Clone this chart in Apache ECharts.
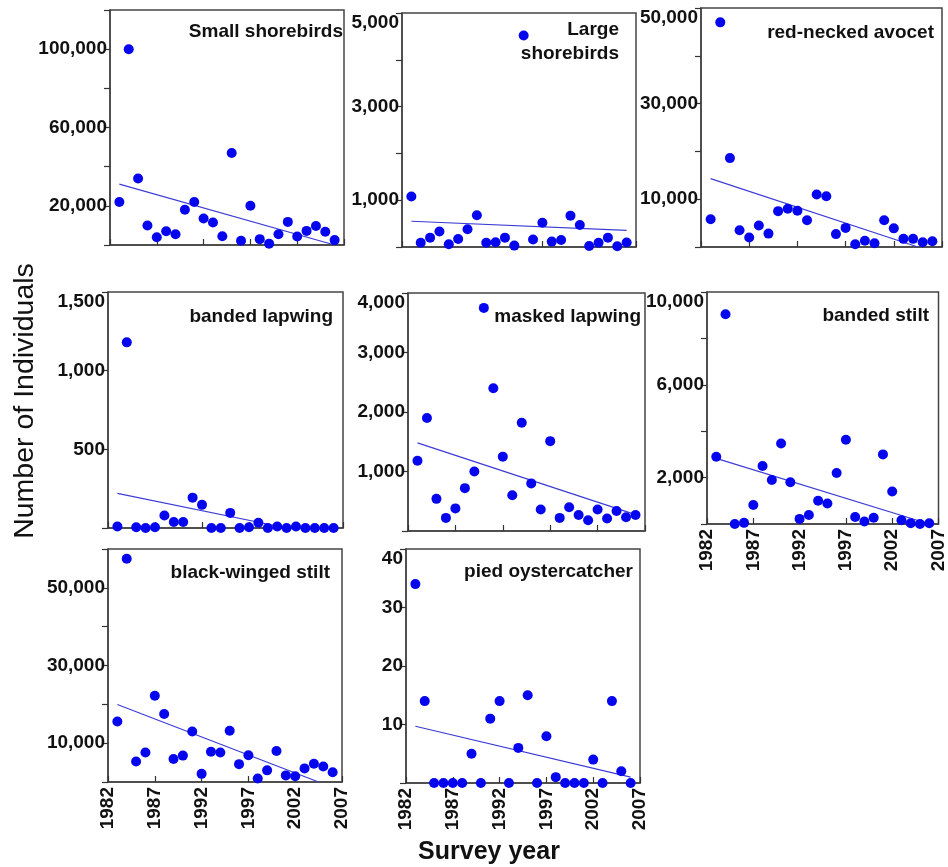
<!DOCTYPE html>
<html><head><meta charset="utf-8">
<script src="https://cdn.jsdelivr.net/npm/echarts@6/dist/echarts.min.js"></script>
<style>html,body{margin:0;padding:0;background:#fff}#c{width:948px;height:867px}</style>
</head><body><div id="c"></div>
<script>
// ---- data ----
const years = [1983,1984,1985,1986,1987,1988,1989,1990,1991,1992,1993,1994,1995,1996,1997,1998,1999,2000,2001,2002,2003,2004,2005,2006];
const xTickYears = [1982,1987,1992,1997,2002,2007];

const smallShorebirds   = [22000,100000,34000,10000,4000,7000,5500,18000,22000,13500,11500,4500,47000,2200,20000,3000,700,5500,11800,4300,7200,9700,6800,2500];
const largeShorebirds   = [1080,90,200,330,60,170,380,680,90,100,200,30,4520,160,520,115,150,670,470,20,90,200,15,95];
const redNeckedAvocet   = [5800,47000,18600,3500,2000,4500,2800,7500,8000,7600,5600,11000,10600,2700,4000,560,1300,770,5600,3900,1700,1700,1000,1200];
const bandedLapwing     = [10,1180,5,0,5,80,38,38,193,147,0,0,96,0,5,33,0,10,0,10,0,0,0,0];
const maskedLapwing     = [1180,1900,540,220,380,720,1000,3750,2400,1250,600,1820,800,360,1510,220,400,270,180,360,210,335,230,270];
const bandedStilt       = [2900,9040,0,50,820,2500,1900,3470,1800,220,390,1000,880,2200,3630,300,110,270,3000,1400,160,30,0,30];
const blackWingedStilt  = [15600,57500,5300,7600,22200,17500,5900,6800,13000,2100,7800,7600,13200,4600,6900,900,3000,8000,1700,1500,3500,4700,4000,2500];
const piedOystercatcher = [34,14,0,0,0,0,5,0,11,14,0,6,15,0,8,1,0,0,0,4,0,14,2,0];

// trend lines: [startYear, startValue, endYear, endValue]
const trendSmall   = [1983, 31100, 2006, 0];
const trendLarge   = [1983, 550, 2006, 357];
const trendAvocet  = [1983, 14300, 2004.5, 0];
const trendBLap    = [1983, 220, 2001, 0];
const trendMLap    = [1983, 1480, 2006, 275];
const trendBStilt  = [1983, 2830, 2006, 0];
const trendBWStilt = [1983, 19960, 2004.5, 0];
const trendPied    = [1983, 9.7, 2006, 1.0];

// y axis labelled ticks
const yLabelsSmall  = [20000, 60000, 100000];
const yLabelsLarge  = [1000, 3000, 5000];
const yLabelsAvocet = [10000, 30000, 50000];
const yLabelsBLap   = [500, 1000, 1500];
const yLabelsMLap   = [1000, 2000, 3000, 4000];
const yLabelsBStilt = [2000, 6000, 10000];
const yLabelsBWStilt= [10000, 30000, 50000];
const yLabelsPied   = [10, 20, 30, 40];

// ---- layout ----
const FONT = "'Liberation Sans', Arial, sans-serif";
const panels = [
  {name:'Small shorebirds', v:smallShorebirds, t:trendSmall, max:120000, step:20000, lab:yLabelsSmall,
   g:{left:110,top:10,width:234,height:235}, tx:343, ty:32, xl:false},
  {name:'Large\nshorebirds', v:largeShorebirds, t:trendLarge, max:5000, step:1000, lab:yLabelsLarge,
   g:{left:402,top:13,width:234,height:234}, tx:619, ty:42, xl:false},
  {name:'red-necked avocet', v:redNeckedAvocet, t:trendAvocet, max:50000, step:10000, lab:yLabelsAvocet,
   g:{left:701,top:8,width:241,height:239}, tx:934, ty:33, xl:false},
  {name:'banded lapwing', v:bandedLapwing, t:trendBLap, max:1500, step:500, lab:yLabelsBLap,
   g:{left:108,top:292,width:235,height:236}, tx:333, ty:317, xl:false},
  {name:'masked lapwing', v:maskedLapwing, t:trendMLap, max:4000, step:1000, lab:yLabelsMLap,
   g:{left:408,top:293,width:237,height:238}, tx:641, ty:317, xl:false},
  {name:'banded stilt', v:bandedStilt, t:trendBStilt, max:10000, step:2000, lab:yLabelsBStilt,
   g:{left:707,top:292,width:235,height:232}, tx:929, ty:316, xl:true},
  {name:'black-winged stilt', v:blackWingedStilt, t:trendBWStilt, max:60000, step:10000, lab:yLabelsBWStilt,
   g:{left:108,top:549,width:234,height:233}, tx:330, ty:573, xl:true},
  {name:'pied oystercatcher', v:piedOystercatcher, t:trendPied, max:40, step:10, lab:yLabelsPied,
   g:{left:406,top:549,width:234,height:234}, tx:633, ty:572, xl:true}
];

function fmt(n){ return String(n).replace(/\B(?=(\d{3})+(?!\d))/g, ','); }

const grid = [], xAxis = [], yAxis = [], series = [], graphic = [];
panels.forEach((p, i) => {
  grid.push(Object.assign({show:true, borderColor:'#444', borderWidth:1.5, backgroundColor:'transparent'}, p.g));
  xAxis.push({
    type:'value', gridIndex:i, min:xTickYears[0], max:xTickYears[xTickYears.length-1], interval:5,
    axisLine:{show:true, lineStyle:{color:'#444', width:1.5}},
    axisTick:{show:true, inside:true, length:6, lineStyle:{color:'#333', width:1.2}},
    axisLabel:{show:p.xl, rotate:90, margin:5, fontSize:19, fontWeight:'bold', color:'#111', fontFamily:FONT,
      formatter: v => String(v)},
    splitLine:{show:false}
  });
  const labs = p.lab;
  yAxis.push({
    type:'value', gridIndex:i, min:0, max:p.max, interval:p.step,
    axisLine:{show:true, lineStyle:{color:'#444', width:1.5}},
    axisTick:{show:true, inside:false, length:6, lineStyle:{color:'#333', width:1.2}},
    axisLabel:{show:true, margin:3, fontSize:19, fontWeight:'bold', color:'#111', fontFamily:FONT,
      verticalAlignMaxLabel:'top',
      formatter: v => labs.indexOf(v) >= 0 ? fmt(v) : ''},
    splitLine:{show:false}
  });
  series.push({
    type:'line', xAxisIndex:i, yAxisIndex:i, z:1, silent:true,
    data:[[p.t[0], p.t[1]], [p.t[2], p.t[3]]],
    showSymbol:false, symbol:'none',
    lineStyle:{color:'#3c3cd4', width:1.2}
  });
  series.push({
    type:'scatter', xAxisIndex:i, yAxisIndex:i, z:2,
    data: years.map((y, k) => [y, p.v[k]]),
    symbolSize:10, itemStyle:{color:'#0606ee', opacity:1}
  });
  graphic.push({
    type:'text', x:p.tx, y:p.ty, z:10,
    style:{text:p.name, font:"bold 19px " + FONT, fill:'#111', textAlign:'right', textVerticalAlign:'middle', lineHeight:24}
  });
});

graphic.push({
  type:'text', x:25, y:401, rotation:Math.PI/2, z:10,
  style:{text:'Number of Individuals', font:"28.5px " + FONT, fill:'#111', textAlign:'center', textVerticalAlign:'middle'}
});
graphic.push({
  type:'text', x:489, y:852, z:10,
  style:{text:'Survey year', font:"bold 25px " + FONT, fill:'#111', textAlign:'center', textVerticalAlign:'middle'}
});

const chart = echarts.init(document.getElementById('c'), null, {renderer:'canvas'});
chart.setOption({
  animation:false,
  backgroundColor:'#fff',
  textStyle:{fontFamily:FONT},
  grid, xAxis, yAxis, series, graphic
});
</script>
</body></html>
